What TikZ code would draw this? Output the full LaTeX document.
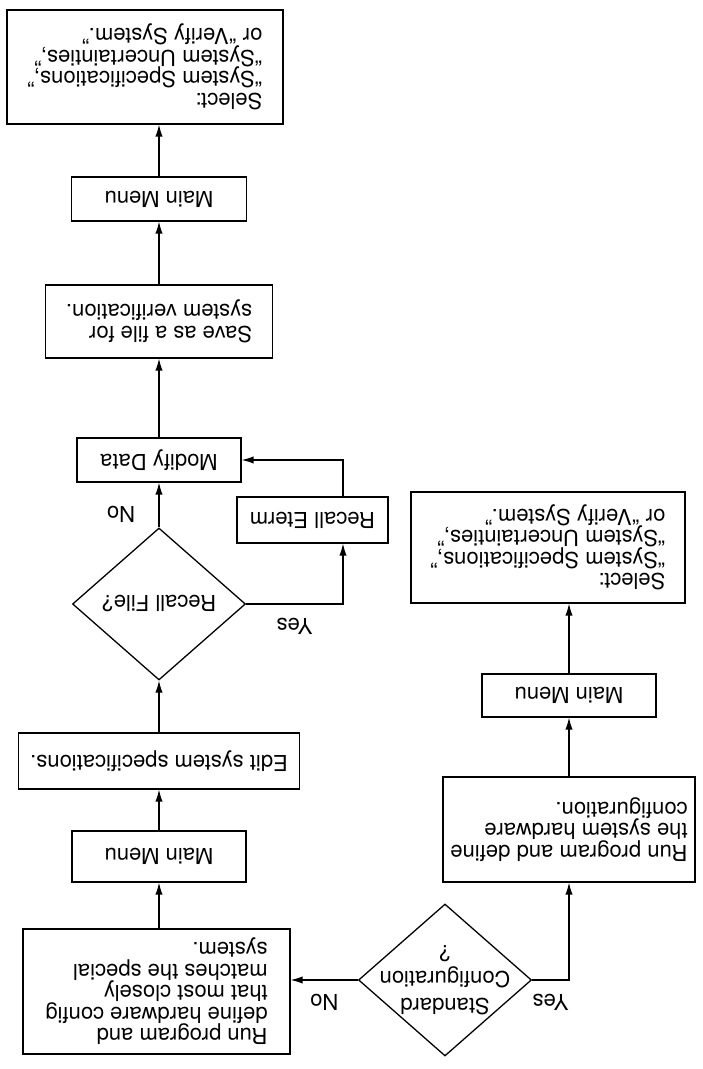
\documentclass[tikz,border=0pt]{standalone}
\usepackage{fontspec}
\setmainfont{TeX Gyre Heros}
\usetikzlibrary{shapes.geometric,arrows.meta}

\tikzset{
	box/.style={draw, line width=1.1pt, align=left, inner sep=2mm},
	decision/.style={draw, diamond, line width=1.1pt, inner sep=0pt, minimum width=51.9mm, minimum height=45.6mm},
	arr/.style={line width=1.1pt, -{Latex[length=3.6mm,width=2.2mm]}},
	lbl/.style={inner sep=0pt}
}

\begin{document}
\begin{tikzpicture}[x=0.3mm, y=0.3mm, rotate=180, transform shape,
	font=\fontsize{18.8}{18.4}\selectfont]
	\useasboundingbox (0,0) rectangle (702,-1069);

	\node[decision] (std) at (257,-89) {};
	\node[align=center, font=\fontsize{18.8}{22.8}\selectfont] (stdtxt) at (std) {Standard\\Configuration\\?};
	\node[box, minimum width=80.1mm, minimum height=37.5mm] (special) at (545.5,-77.5)
		{Run program and\\define hardware config\\that most closely\\matches the special\\system.};

	\node[box, minimum width=75.6mm, minimum height=31.5mm] (stdrun) at (133,-239.5)
		{Run program and define\\the system hardware\\configuration.};
	\node[box, minimum width=52.2mm, minimum height=12.9mm] (mmA) at (133,-373.5) {Main Menu};
	\node[box, minimum width=82.2mm, minimum height=33.3mm] (selA) at (154,-521.5)
		{Select:\\``System Specifications,''\\``System Uncertainties,''\\or ``Verify System.''};

	\node[box, minimum width=52.2mm, minimum height=15.3mm] (mmB) at (543,-212.5) {Main Menu};
	\node[box, minimum width=84.3mm, minimum height=16.8mm] (edit) at (543,-308) {Edit system specifications.};
	\node[decision] (recall) at (543,-465) {Recall File?};
	\node[box, minimum width=45.3mm, minimum height=13.8mm] (eterm) at (389.5,-549) {Recall Eterm};
	\node[box, minimum width=49.2mm, minimum height=13.2mm] (modify) at (543,-609) {Modify Data};
	\node[box, minimum width=68.1mm, minimum height=21.9mm] (save) at (543,-747.5)
		{Save as a file for\\system verification.};
	\node[box, minimum width=52.5mm, minimum height=13.2mm] (mmC) at (543,-870) {Main Menu};
	\node[box, minimum width=82.8mm, minimum height=34.2mm] (selB) at (557,-1002)
		{Select:\\``System Specifications,''\\``System Uncertainties,''\\or ``Verify System.''};

	\draw[arr] (std.west) -| node[lbl, pos=0.25, above=4mm] {Yes} (stdrun.north);
	\draw[arr] (std.east) -- node[lbl, above=4mm] {No} (std.east -| special.west);
	\draw[arr] (stdrun) -- (mmA);
	\draw[arr] (mmA.south) -- (mmA.south |- selA.north);

	\draw[arr] (mmB.north |- special.south) -- (mmB);
	\draw[arr] (mmB) -- (edit);
	\draw[arr] (edit) -- (recall);
	\draw[arr] (recall) -- node[lbl, pos=0.3, right=7mm] {No} (modify);
	\draw[arr] (recall.west) -| node[lbl, pos=0.25, above=4mm] {Yes} ([xshift=-9.15mm]eterm.north);
	\draw[arr] ([xshift=-9.15mm]eterm.south) |- (modify.west);
	\draw[arr] (modify) -- (save);
	\draw[arr] (save) -- (mmC);
	\draw[arr] (mmC.south) -- (mmC.south |- selB.north);
\end{tikzpicture}
\end{document}
